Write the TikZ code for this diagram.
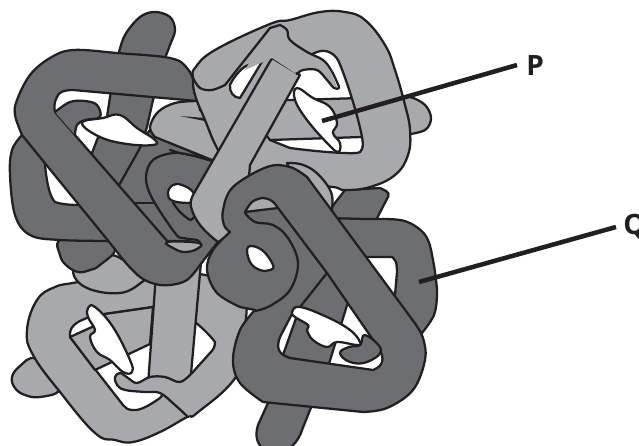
\documentclass[tikz,border=0pt]{standalone}
\usepackage{fontspec}
\setmainfont{Open Sans}
\definecolor{dk}{HTML}{6D6E71}
\definecolor{lt}{HTML}{A7A9AC}
\definecolor{ink}{HTML}{231F20}
\tikzset{
  sm/.style={smooth,tension=0.6},
  smc/.style={smooth cycle,tension=0.7},
  shp/.style={draw=ink,line width=1.7pt,line join=round,even odd rule},
  dark/.style={shp,fill=dk},
  light/.style={shp,fill=lt},
  hole/.style={shp,fill=white},
  edge/.style={draw=ink,line width=1.7pt,line join=round,line cap=round},
  leader/.style={draw=ink,line width=3.4pt},
  lab/.style={font=\fontsize{21}{21}\selectfont\bfseries,text=ink,inner sep=0pt}
}
\begin{document}
\begin{tikzpicture}[x=0.75pt,y=-0.75pt]
\useasboundingbox (0,0) rectangle (639,446);
\clip (0,0) rectangle (639,446);
% ---- Q group, back
\path[dark] (345,190) -- (380,188) [rounded corners=3pt] -- (390,193) [sharp corners] -- (372,228) -- (340,228) -- (328,212) -- cycle;
\path[dark] (340,250) -- (300,307) -- (283,355) -- (268,403) -- (258,425) .. controls (254,438) and (258,445) .. (266,452) -- (285,452) .. controls (295,445) and (300,437) .. (302,430) -- (310,410) -- (328,367) -- (348,302) -- (355,260) -- cycle;
\path[dark] plot[sm] coordinates {(325,218)(365,219)(400,220)(418,228)(428,240)(433,260)(436,280)(437,295)(434,315)(422,333)} -- (385,320) -- (395,295) -- plot[sm] coordinates {(397,272)(396,262)(392,257)} -- (350,257) -- cycle;
% ---- bottom-left group
\path[light] plot[smc] coordinates {(35,358)(20,366)(12,377)(15,388)(25,395)(40,397)(60,390)(60,370)};
\path[light] plot[smc] coordinates {(78,282)(55,287)(37,300)(27,330)(33,355)(60,392)(95,433)(115,440)(133,442)(160,432)(187,417)(197,413)(237,375)(245,330)(240,290)(190,272)(140,270)}
  plot coordinates {(70,337)} .. controls (69,328) and (74,322) .. (90,317) -- (105,314) -- (153,307) -- (195,322) .. controls (205,330) and (212,338) .. (215,342) .. controls (215,347) and (213,350) .. (210,353) -- (192,373) -- (165,392) -- (160,398) .. controls (150,405) and (140,411) .. (133,410) .. controls (128,410) and (125,408) .. (123,405) -- cycle;
\path[light] (70,337) -- (92,327) -- (105,314) -- (153,307) -- (150,344) -- (95,370) -- cycle;
\path[light] (157,260) -- (148,385) -- (190,385) -- (203,240) -- cycle;
\path[fill=lt] plot[sm] coordinates {(192,373)(180,382)(165,377)(150,377)(137,383)(128,378)(120,373)(115,377)(117,385)(125,390)(145,392)(160,393)(175,405)(188,417)} -- (205,395) -- cycle;
\path[edge] plot[sm] coordinates {(192,373)(180,382)(165,377)(150,377)(137,383)(128,378)(120,373)(115,377)(117,385)(125,390)(145,392)(160,393)(175,405)(188,417)};
\path[hole] plot[smc] coordinates {(88,308)(95,307)(113,327)(130,360)(132,372)(123,372)(110,360)(97,352)(90,337)(95,330)(88,317)};
\path[light] plot[smc] coordinates {(73,272)(85,262)(110,255)(128,263)(145,275)(142,282)(120,293)(87,288)};
\path[dark] plot[smc] coordinates {(60,240)(60,255)(66,265)(78,272)(90,270)(100,265)(115,248)(90,235)};
% ---- left dark ring and bar in the top-left link
\path[dark] plot[sm] coordinates {(22,135)(12,150)(10,175)(15,215)(30,235)(60,240)(115,241)} -- (190,241) -- (212,163) -- (150,130) -- (142,140) -- (125,165) -- (100,170) -- (40,130) -- cycle
  (45,150) -- (45,165) .. controls (47,185) and (50,197) .. (55,202) .. controls (60,204) and (70,205) .. (78,205) -- (90,205) -- cycle;
\path[edge] (133,203) -- (155,203);
\path[dark] plot[sm] coordinates {(118,56)(125,35)(140,17)(155,12)(170,17)(175,30)(170,45)(165,58)} -- (153,100) -- (147,127) -- (140,148) -- (118,187) -- (100,185) -- (92,153) -- (97,140) -- (107,117) -- (110,97) -- cycle;
% ---- P bar
\path[light] plot[sm] coordinates {(393,97)(410,97)(425,105)(431,118)(425,130)(405,135)} -- (362,137) -- (270,140) -- (245,150) -- (212,160) -- plot[sm] coordinates {(155,137)(150,127)(158,112)(175,103)(197,101)} -- (295,100) -- cycle;
\path[edge] (170,150) -- (212,164);
\fill[ink] (180,116) -- (205,118) -- (205,121) -- cycle;
\path[hole] plot[smc] coordinates {(82,123)(103,118)(120,115)(137,128)(155,140)(153,145)(127,144)(100,137)};
% ---- top-left ring
\path[dark] plot[sm] coordinates {(200,110)(195,85)(187,68)(170,58)(117,53)(73,50)(50,58)(30,75)(17,100)(15,115)(22,135)} -- (110,243) -- plot[sm] coordinates {(125,262)(140,277)(155,284)(170,285)(187,280)(200,265)} -- (217,243) -- (225,235) -- (235,200) -- (230,130) -- cycle
  (197,101) -- (73,90) .. controls (65,90) and (58,92) .. (57,97) .. controls (54,102) and (54,108) .. (55,112) -- (168,242) -- (190,243) -- (205,230) -- (235,160) -- (220,100) -- cycle;
\path[dark] plot[sm] coordinates {(55,112)(70,102)(85,101)(97,105)(100,117)(85,120)(77,125)(75,135)};
% ---- S fold of the top-left ring
\path[fill=dk] (146,177) -- (152,198) -- (175,233) -- (183,238) -- (199,243) -- (215,235) -- (238,150) -- (212,160) -- (173,153) -- (153,160) -- cycle;
\path[edge] plot[sm] coordinates {(212,161)(190,155)(173,153)(153,160)(146,177)(152,198)(175,233)(183,238)(197,240)(200,243)};
\path[hole] plot[smc] coordinates {(168,193)(173,185)(182,185)(193,192)(194,202)(173,201)};
\path[edge] plot[sm] coordinates {(173,203)(180,212)(187,218)(191,220)(194,217)};
\path[light] plot[smc] coordinates {(167,242)(175,249)(185,252)(197,249)(199,243)};
% ---- top-right ring
\path[light] plot[smc] coordinates {(193,78)(195,68)(215,50)(270,24)(290,20)(320,12)(345,12)(365,20)(385,45)(395,70)(405,105)(410,130)(408,155)(395,175)(370,187)(345,190)(333,187)(300,185)(240,185)(218,150)(205,120)(195,95)}
 (317,52) .. controls (325,49) and (333,52) .. (338,60) .. controls (345,75) and (358,115) .. (362,137) .. controls (364,147) and (362,153) .. (357,153) .. controls (340,154) and (305,150) .. (290,148) -- (270,140) -- (262,130) -- (285,90) -- (298,60) -- cycle;
\path[light] plot[sm] coordinates {(287,163)(300,164)(313,170)(325,182)(332,195)(332,210)} -- (300,190) -- cycle;
\path[hole] plot[smc] coordinates {(297,88)(313,98)(330,107)(337,123)(333,133)(340,143)(338,152)(327,143)(307,120)(295,100)};
\path[hole] (263,60) .. controls (255,62) and (245,66) .. (243,68) .. controls (238,72) and (232,80) .. (230,85) .. controls (229,92) and (234,98) .. (240,98) -- cycle;
% ---- central bar and hook
\path[light] (272,58) -- (300,75) -- (250,165) -- (245,220) -- (225,238) -- (218,242) .. controls (205,232) and (195,222) .. (191,207) .. controls (190,203) and (191,199) .. (193,195) -- cycle;
\path[fill=lt] plot[sm] coordinates {(270,27)(280,25)(287,30)(290,40)(307,52)(323,60)(337,87)(327,80)(317,70)(303,70)(295,73)} -- (272,58) -- (245,70) -- cycle;
\path[edge] plot[sm] coordinates {(193,78)(200,88)(212,90)(225,85)} -- (270,28) -- plot[sm] coordinates {(280,25)(287,30)(290,40)(307,52)(323,60)(331,70)(337,82)(339,88)(334,88)(327,80)(317,70)(303,70)(297,74)};
% ---- Q front link
\path[dark] plot[sm] coordinates {(230,232)(224,225)(223,210)(233,187)(267,167)(290,167)(307,177)} -- (414,322) -- plot[sm] coordinates {(414,322)(423,338)(425,360)(413,390)(387,408)(363,412)} -- plot[sm] coordinates {(263,402)(240,383)(233,360)(240,330)(255,310)} -- plot[sm] coordinates {(240,307)(217,293)(207,270)(213,250)(230,232)} -- cycle
 (327,273) -- (380,350) .. controls (384,358) and (384,366) .. (373,370) -- (290,358) .. controls (278,354) and (276,348) .. (280,337) -- (293,312) -- (300,307) -- cycle;
\path[edge] (278,208) -- (327,273);
\path[edge] plot[sm] coordinates {(245,213)(255,222)(273,225)(288,238)(298,263)(290,290)(270,306)(255,311)};
\path[light] plot[sm] coordinates {(245,212)(252,202)(263,198)(272,201)(278,208)} -- cycle;
\path[hole] plot[smc] coordinates {(248,247)(262,250)(273,265)(270,270)(260,270)(250,262)};
\path[dark] plot[smc] coordinates {(365,335)(381,350)(367,362)(350,362)(340,353)(349,347)(360,345)};
\path[hole] plot[smc] coordinates {(292,312)(300,307)(327,317)(350,330)(360,342)(357,345)(337,342)(327,347)(313,340)(307,330)(308,325)(295,317)};
% ---- labels
\node[lab,anchor=base west] (P) at (526,75) {P};
\node[lab,anchor=base west] (Q) at (623,234) {Q};
\coordinate (pa) at (322,121);
\coordinate (pb) at (517,65);
\coordinate (qa) at (419,282);
\coordinate (qb) at (616,227);
\draw[leader] (pa) -- (pb);
\draw[leader] (qa) -- (qb);
\end{tikzpicture}
\end{document}
